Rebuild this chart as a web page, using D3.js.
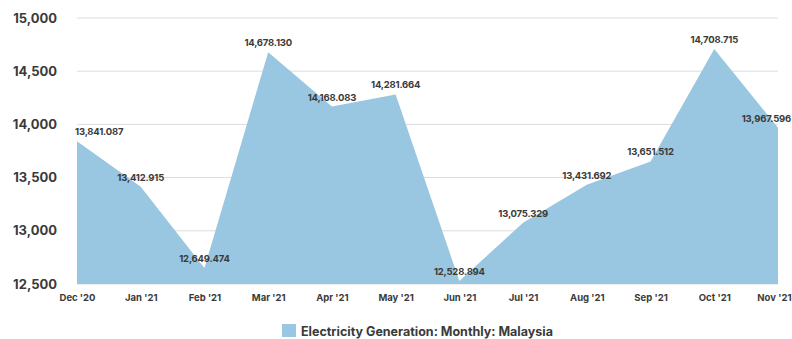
<!DOCTYPE html>
<html>
<head>
<meta charset="utf-8">
<script src="https://cdn.jsdelivr.net/npm/d3@7"></script>
<style>
  html, body { margin: 0; padding: 0; background: #fff; }
  svg { display: block; font-family: Inter, "Open Sans", sans-serif; }
</style>
</head>
<body>
<svg id="chart" width="792" height="339"></svg>
<script>
// Monthly electricity generation, Malaysia
const months = ["Dec '20", "Jan '21", "Feb '21", "Mar '21", "Apr '21", "May '21",
                "Jun '21", "Jul '21", "Aug '21", "Sep '21", "Oct '21", "Nov '21"];
const generation = [13841.087, 13412.915, 12649.474, 14678.130, 14168.083, 14281.664,
                    12528.894, 13075.329, 13431.692, 13651.512, 14708.715, 13967.596];
const yTicks = [12500, 13000, 13500, 14000, 14500, 15000];
const seriesName = "Electricity Generation: Monthly: Malaysia";

const svg = d3.select("#chart");
const margin = { left: 77, right: 14, top: 18, bottom: 55 };
const W = 792, H = 339;

const x = d3.scalePoint().domain(months).range([margin.left, W - margin.right]);
const y = d3.scaleLinear().domain([12500, 15000]).range([H - margin.bottom, margin.top]);

const fmt = d3.format(",");
const fmtVal = d3.format(",.3f");

// keep a centred label inside [lo, hi]
function clampLabel(sel, lo, hi) {
  sel.each(function () {
    const t = d3.select(this);
    const w = this.getComputedTextLength();
    const cx = +t.attr("x") || 0;
    let nx = cx;
    if (cx - w / 2 < lo) nx = lo + w / 2;
    if (cx + w / 2 > hi) nx = hi - w / 2;
    t.attr("x", nx);
  });
}

// horizontal gridlines
svg.append("g")
  .selectAll("line")
  .data(yTicks)
  .join("line")
  .attr("x1", margin.left).attr("x2", W - margin.right)
  .attr("y1", d => y(d)).attr("y2", d => y(d))
  .attr("stroke", "#dcdcdc").attr("stroke-width", 1);

// filled area
const area = d3.area()
  .x((d, i) => x(months[i]))
  .y0(y(12500))
  .y1(d => y(d));
svg.append("path")
  .datum(generation)
  .attr("d", area)
  .attr("fill", "#99c6e0");

// y axis labels
const yAxis = d3.axisLeft(y).tickValues(yTicks).tickFormat(fmt).tickSize(0).tickPadding(0);
const gy = svg.append("g").attr("transform", `translate(${margin.left - 20},0)`).call(yAxis);
gy.select(".domain").remove();
gy.selectAll("text")
  .attr("font-size", 13).attr("font-weight", 700).attr("fill", "#3a3a3a")
  .attr("font-family", "Inter, sans-serif");

// x axis labels
const xAxis = d3.axisBottom(x).tickSize(0).tickPadding(0);
const gx = svg.append("g").attr("transform", `translate(0,${H - margin.bottom + 10})`).call(xAxis);
gx.select(".domain").remove();
gx.selectAll("text")
  .attr("font-size", 9.5).attr("font-weight", 700).attr("fill", "#3a3a3a")
  .attr("font-family", "Inter, sans-serif");
gx.selectAll(".tick").each(function (d) {
  const tick = d3.select(this);
  const w = tick.select("text").node().getComputedTextLength();
  const cx = x(d);
  if (cx + w / 2 > W - 1) tick.select("text").attr("x", (W - 1) - w / 2 - cx);
});

// value labels
svg.append("g")
  .selectAll("text")
  .data(generation)
  .join("text")
  .attr("x", (d, i) => x(months[i]))
  .attr("y", d => y(d) - 6)
  .attr("text-anchor", "middle")
  .attr("font-size", 9.5).attr("font-weight", 700).attr("fill", "#3a3a3a")
  .attr("letter-spacing", -0.2)
  .text(d => fmtVal(d))
  .call(clampLabel, margin.left - 2, W - 1);

// legend
const lg = svg.append("g").attr("transform", "translate(282,324)");
lg.append("rect").attr("width", 14).attr("height", 13).attr("fill", "#99c6e0");
lg.append("text")
  .attr("x", 19).attr("y", 11.5)
  .attr("font-size", 12.5).attr("font-weight", 700).attr("fill", "#3a3a3a")
  .text(seriesName);
</script>
</body>
</html>
